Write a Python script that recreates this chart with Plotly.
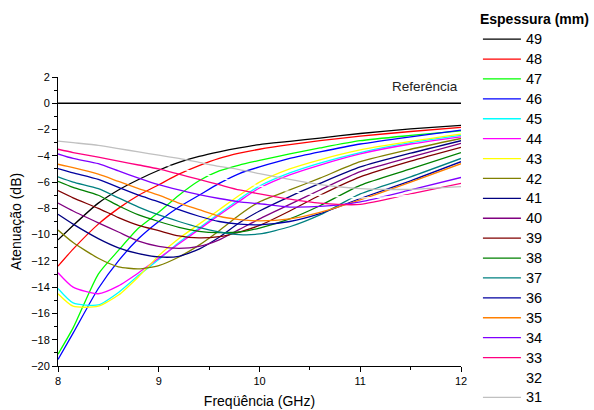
import plotly.graph_objects as go

freq = [8.0, 8.15, 8.4, 8.6, 8.8, 9.0, 9.2, 9.4, 9.6, 9.8, 10.0, 10.3, 10.6, 11.0, 11.5, 12.0]

thickness = ["49", "48", "47", "46", "45", "44", "43", "42", "41", "40",
             "39", "38", "37", "36", "35", "34", "33", "32", "31"]

s49 = [-10.4, -9.3, -7.6, -6.6, -5.8, -5.1, -4.5, -4.05, -3.7, -3.4, -3.15, -2.9, -2.65, -2.3, -1.95, -1.68]
s48 = [-12.4, -11.1, -9.2, -8.0, -7.0, -6.2, -5.4, -4.75, -4.2, -3.8, -3.5, -3.15, -2.85, -2.5, -2.15, -1.83]
s47 = [-19.1, -17.1, -13.0, -11.2, -9.5, -8.3, -7.0, -5.9, -5.15, -4.7, -4.35, -3.85, -3.4, -2.85, -2.45, -2.1]
s46 = [-19.5, -17.5, -14.1, -12.0, -10.3, -9.0, -7.9, -7.0, -6.1, -5.35, -4.85, -4.2, -3.7, -3.1, -2.55, -2.05]
s45 = [-14.1, -15.2, -15.35, -14.4, -13.1, -11.9, -10.6, -9.5, -8.4, -7.3, -6.3, -5.3, -4.55, -3.75, -3.0, -2.45]
s44 = [-12.9, -14.0, -14.5, -13.9, -12.9, -11.8, -10.7, -9.6, -8.5, -7.45, -6.45, -5.45, -4.7, -3.85, -3.1, -2.55]
s43 = [-14.5, -15.45, -15.45, -14.6, -13.2, -11.6, -10.3, -9.2, -8.1, -7.0, -6.0, -5.0, -4.3, -3.55, -2.9, -2.35]
s42 = [-9.65, -10.6, -11.8, -12.45, -12.6, -12.35, -11.7, -10.8, -9.7, -8.5, -7.5, -6.6, -5.7, -4.45, -3.5, -2.68]
s41 = [-8.45, -9.2, -10.3, -11.0, -11.45, -11.7, -11.65, -11.1, -10.2, -9.1, -8.2, -7.1, -6.1, -4.85, -3.8, -2.85]
s40 = [-7.59, -8.2, -9.1, -9.8, -10.5, -10.9, -11.05, -10.9, -10.4, -9.6, -8.8, -7.7, -6.6, -5.2, -4.1, -3.05]
s39 = [-6.65, -7.2, -8.0, -8.7, -9.3, -9.7, -10.1, -10.25, -10.15, -9.8, -9.3, -8.2, -7.0, -5.6, -4.4, -3.35]
s38 = [-5.94, -6.4, -7.0, -7.8, -8.5, -9.0, -9.45, -9.75, -9.85, -9.8, -9.5, -8.8, -7.8, -6.25, -5.0, -3.76]
s37 = [-5.6, -6.0, -6.5, -7.2, -7.9, -8.5, -9.0, -9.45, -9.8, -10.0, -9.95, -9.4, -8.5, -6.9, -5.6, -4.2]
s36 = [-4.97, -5.3, -5.8, -6.4, -7.0, -7.5, -8.1, -8.6, -9.0, -9.2, -9.25, -9.0, -8.4, -7.25, -5.9, -4.45]
s35 = [-4.64, -4.9, -5.4, -5.95, -6.5, -7.0, -7.6, -8.1, -8.6, -8.85, -8.95, -8.8, -8.3, -7.35, -6.0, -4.6]
s34 = [-3.86, -4.2, -4.6, -5.15, -5.7, -6.2, -6.6, -6.95, -7.25, -7.5, -7.65, -7.9, -7.85, -7.5, -6.6, -5.65]
s33 = [-3.5, -3.75, -4.1, -4.4, -4.7, -5.0, -5.4, -5.8, -6.2, -6.6, -6.9, -7.3, -7.6, -7.7, -6.9, -6.1]
s32 = [-3.2, -3.4, -3.7, -4.0, -4.3, -4.6, -4.95, -5.3, -5.7, -6.0, -6.3, -6.7, -7.0, -7.2, -7.0, -6.5]
s31 = [-2.88, -3.0, -3.2, -3.45, -3.7, -3.95, -4.2, -4.5, -4.8, -5.05, -5.35, -5.8, -6.2, -6.5, -6.55, -6.35]

series = [s49, s48, s47, s46, s45, s44, s43, s42, s41, s40,
          s39, s38, s37, s36, s35, s34, s33, s32, s31]

colors = ["#000000", "#FF0000", "#00FF00", "#0000FF", "#00FFFF", "#FF00FF",
          "#FFFF00", "#808000", "#000080", "#800080", "#800000", "#008000",
          "#008080", "#0000A0", "#FF8000", "#8000FF", "#FF0080", "#FFFFFF",
          "#C0C0C0"]

ref_x = [8.0, 12.0]
ref_y = [0.0, 0.0]

fig = go.Figure()
fig.add_trace(go.Scatter(x=ref_x, y=ref_y, mode="lines",
                         line=dict(color="black", width=1.3), showlegend=False))
for name, ys, c in zip(thickness, series, colors):
    fig.add_trace(go.Scatter(x=freq, y=ys, mode="lines",
                             name="<span style='font-size:14.5px'>" + name + "</span>",
                             line=dict(color=c, width=1.3, shape="spline", smoothing=0.6)))

fig.add_annotation(x=12, y=0, xref="x", yref="y", text="Referência",
                   showarrow=False, xanchor="right", yanchor="bottom",
                   xshift=-1, yshift=7,
                   font=dict(size=13.5, color="#222", family="Liberation Sans, Arial"))

fig.update_layout(
    width=594, height=410,
    margin=dict(l=58, r=133, t=77, b=44, autoexpand=False),
    paper_bgcolor="white", plot_bgcolor="white",
    font=dict(family="Liberation Sans, Arial", color="black", size=11),
    legend=dict(
        title=dict(text="<b>Espessura (mm)</b>", font=dict(size=14)),
        font=dict(size=13), x=1.042, y=1.2457, xanchor="left", yanchor="top",
        tracegroupgap=0, itemwidth=38, bgcolor="rgba(0,0,0,0)",
        maxheight=410,
    ),
    xaxis=dict(range=[8, 12], dtick=1, tick0=8, showgrid=False, zeroline=False,
               showline=True, linecolor="black", linewidth=1,
               ticks="outside", ticklen=5, tickcolor="black",
               minor=dict(dtick=0.5, ticks="outside", ticklen=3, tickcolor="black"),
               title=dict(text="Freqüência (GHz)", font=dict(size=14), standoff=9)),
    yaxis=dict(range=[-20, 2], dtick=2, tick0=0, showgrid=False, zeroline=False,
               showline=True, linecolor="black", linewidth=1,
               ticks="outside", ticklen=5, tickcolor="black",
               minor=dict(dtick=1, ticks="outside", ticklen=3, tickcolor="black"),
               title=dict(text="Atenuação (dB)", font=dict(size=14), standoff=6)),
)

fig.write_html("out.html")
